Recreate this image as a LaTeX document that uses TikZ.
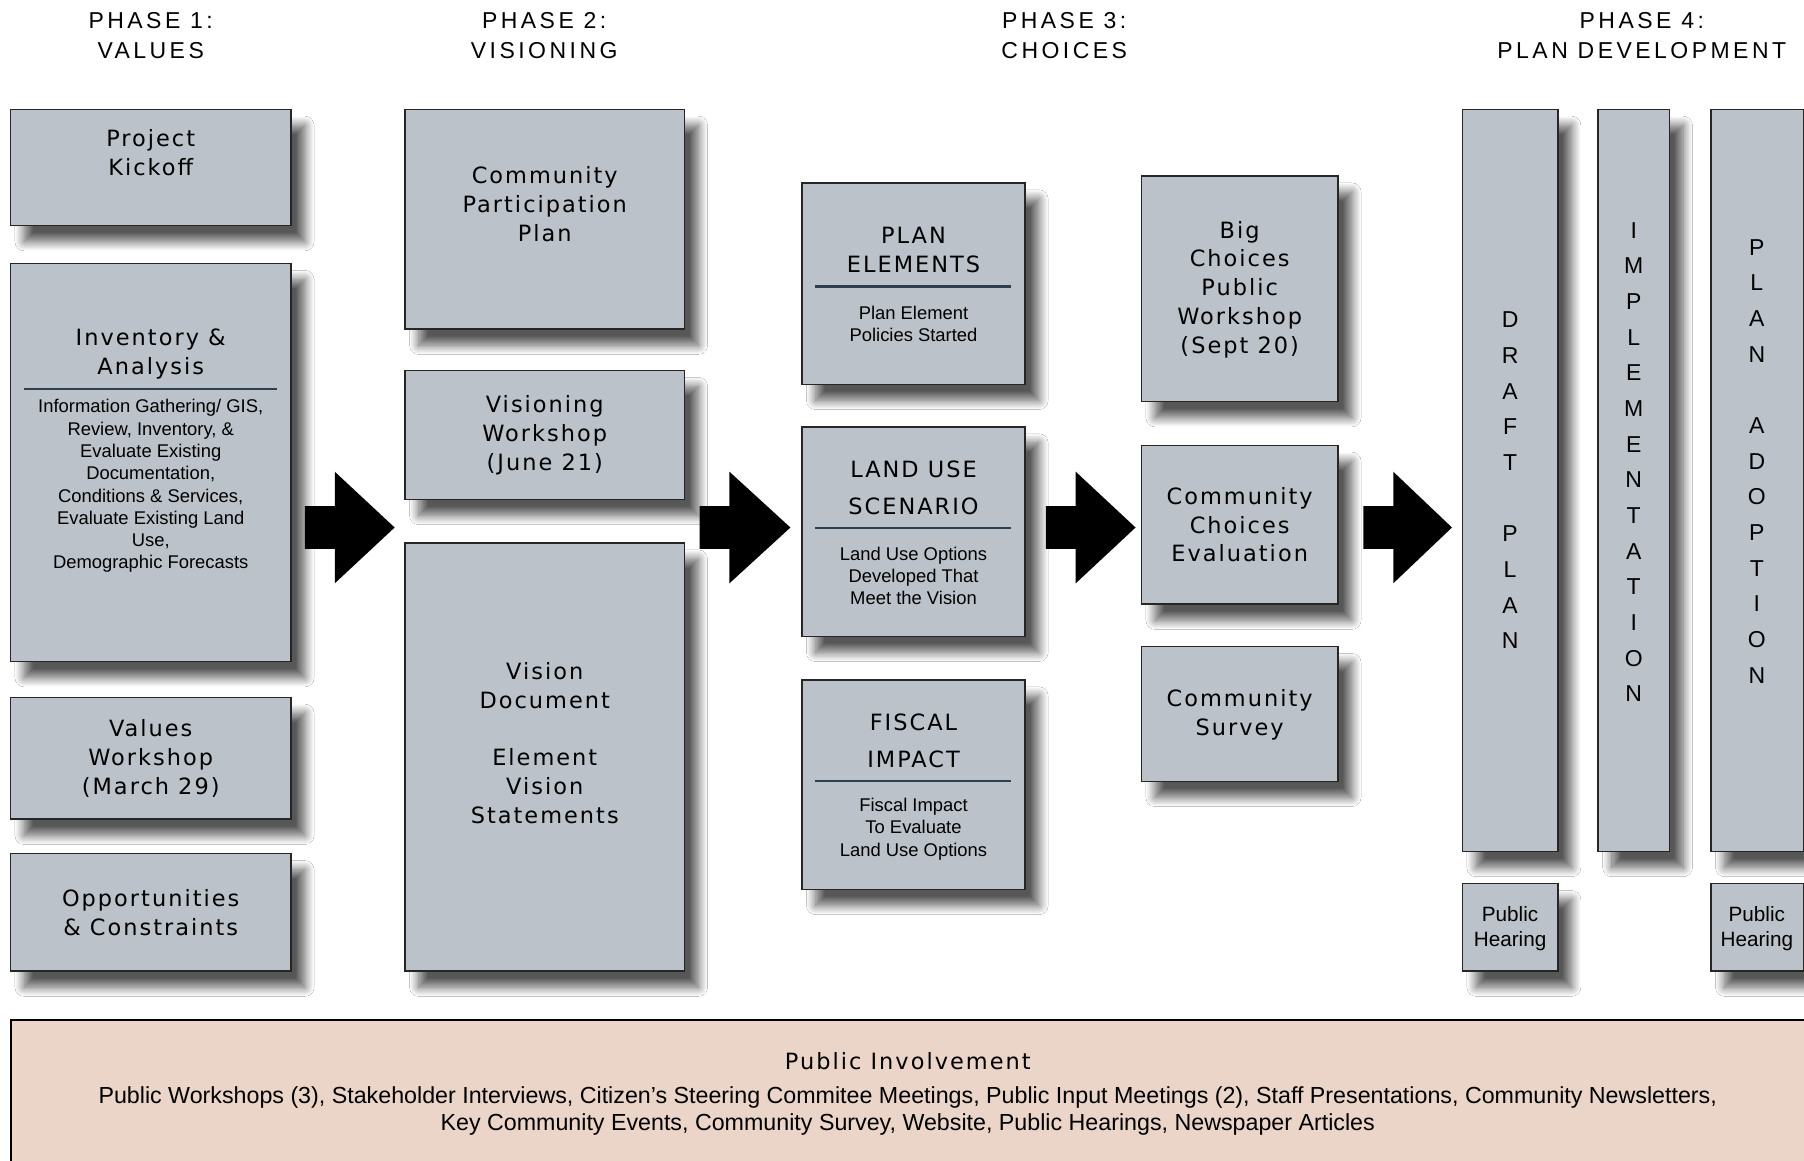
\documentclass[tikz,border=0pt]{standalone}
\usepackage{fontspec}
\setmainfont{Liberation Sans}
\newfontfamily\titlefont[LetterSpace=9]{DejaVu Sans}
\newfontfamily\headfont[LetterSpace=15]{Liberation Sans}
\usetikzlibrary{shadows.blur}
\definecolor{boxfill}{HTML}{BCC2C9}
\definecolor{rulecol}{HTML}{2B3F4E}
\definecolor{bandfill}{HTML}{EAD5C8}
\tikzset{
 box/.style={draw=black!85, line width=1.2pt, fill=boxfill, inner sep=0pt,
   blur shadow={shadow xshift=12pt, shadow yshift=-14pt, shadow blur radius=8pt, shadow blur steps=16, shadow opacity=66}},
 ttl/.style={font=\titlefont\fontsize{19.5}{25}\selectfont, align=center, inner sep=0pt},
 ttlb/.style={font=\titlefont\fontsize{19.5}{32}\selectfont, align=center, inner sep=0pt},
 small/.style={font=\fontsize{16}{19.4}\selectfont, align=center, inner sep=0pt},
 head/.style={font=\headfont\fontsize{20}{26}\selectfont, align=center, inner sep=0pt},
 vert/.style={font=\fontsize{20}{31}\selectfont, align=center, inner sep=0pt},
 hear/.style={font=\fontsize{18}{22}\selectfont, align=center, inner sep=0pt},
 band/.style={font=\fontsize{20.2}{23}\selectfont, align=center, inner sep=0pt},
 rulel/.style={draw=rulecol, line width=2.2pt},
 blockarrow/.style={fill=black},
}
\newcommand\mkbox[5]{\node[box, minimum width={#4-#2}, minimum height={#5-#3}] (#1) at ({(#2+#4)/2},{(#3+#5)/2}) {};}
\newcommand\blockarr[4]{%
 \coordinate (#1-a) at (#2,440); \coordinate (#1-b) at (#3,440);
 \coordinate (#1-c) at (#3,410); \coordinate (#1-tip) at (#4,458.5);
 \coordinate (#1-d) at (#3,507); \coordinate (#1-e) at (#3,477);
 \coordinate (#1-f) at (#2,477);
 \fill[blockarrow] (#1-a) -- (#1-b) -- (#1-c) -- (#1-tip) -- (#1-d) -- (#1-e) -- (#1-f) -- cycle;}
\begin{document}
\begin{tikzpicture}[x=1pt,y=-1pt]
\useasboundingbox (0,0) rectangle (1568,1009);
\clip (0,0) rectangle (1568,1009);
\fill[white] (0,0) rectangle (1568,1009);

% headers
\node[head] (h1) at (131,31) {PHASE 1:\\VALUES};
\node[head] (h2) at (473,31) {PHASE 2:\\VISIONING};
\node[head] (h3) at (925,31) {PHASE 3:\\CHOICES};
\node[head] (h4) at (1427,31) {PHASE 4:\\PLAN DEVELOPMENT};

% phase 1
\mkbox{kick}{9}{95}{253}{196}
\node[ttl] (kick-t) at (131,132.5) {Project\\Kickoff};
\mkbox{inv}{9}{229}{253}{575}
\node[ttl] (inv-t) at (131,307.5) {Inventory \&\\Analysis};
\draw[rulel] (21,338) -- (241,338);
\node[small] (inv-s) at (131,422.5) {Information Gathering/ GIS,\\Review, Inventory, \&\\Evaluate Existing\\Documentation,\\Conditions \& Services,\\Evaluate Existing Land\\Use,\\Demographic Forecasts};
\mkbox{valw}{9}{606}{253}{712}
\node[ttl] (valw-t) at (131,659) {Values\\Workshop\\(March 29)};
\mkbox{opp}{9}{742}{253}{844}
\node[ttl] (opp-t) at (131,793.5) {Opportunities\\\& Constraints};

% phase 2
\mkbox{cpp}{352}{95}{595}{286}
\node[ttl] (cpp-t) at (473.5,177.5) {Community\\Participation\\Plan};
\mkbox{visw}{352}{322}{595}{434}
\node[ttl] (visw-t) at (473.5,378.5) {Visioning\\Workshop\\(June 21)};
\mkbox{visd}{352}{472}{595}{844}
\node[ttl] (visd-t) at (473.5,646) {Vision\\Document\\[25pt]Element\\Vision\\Statements};

% phase 3
\mkbox{pel}{697}{159}{891}{334}
\node[ttl] (pel-t) at (794,217.5) {PLAN\\ELEMENTS};
\draw[rulel] (708,249) -- (879,249);
\node[small] (pel-s) at (794,281.5) {Plan Element\\Policies Started};
\mkbox{lus}{697}{371}{891}{553}
\node[ttlb] (lus-t) at (794,424) {LAND USE\\SCENARIO};
\draw[rulel] (708,459) -- (879,459);
\node[small] (lus-s) at (794,500.5) {Land Use Options\\Developed That\\Meet the Vision};
\mkbox{fis}{697}{591}{891}{773}
\node[ttlb] (fis-t) at (794,644) {FISCAL\\IMPACT};
\draw[rulel] (708,679) -- (879,679);
\node[small] (fis-s) at (794,720.5) {Fiscal Impact\\To Evaluate\\Land Use Options};

\mkbox{big}{992}{153}{1163}{349}
\node[ttl] (big-t) at (1077.5,251.5) {Big\\Choices\\Public\\Workshop\\(Sept 20)};
\mkbox{cce}{992}{387}{1163}{525}
\node[ttl] (cce-t) at (1077.5,456) {Community\\Choices\\Evaluation};
\mkbox{sur}{992}{562}{1163}{679}
\node[ttl] (sur-t) at (1077.5,621.5) {Community\\Survey};

% phase 4
\mkbox{dra}{1271}{95}{1354}{740}
\node[vert] (dra-t) at (1312.5,417.5) {D\\R\\A\\F\\T\\[31pt]P\\L\\A\\N};
\mkbox{imp}{1389}{95}{1451}{740}
\node[vert] (imp-t) at (1420,401.5) {I\\M\\P\\L\\E\\M\\E\\N\\T\\A\\T\\I\\O\\N};
\mkbox{ado}{1487}{95}{1568}{740}
\node[vert] (ado-t) at (1527,401) {P\\L\\A\\N\\[31pt]A\\D\\O\\P\\T\\I\\O\\N};
\mkbox{ph1}{1271}{768}{1354}{844}
\node[hear] (ph1-t) at (1312.5,807) {Public\\Hearing};
\mkbox{ph2}{1487}{768}{1568}{844}
\node[hear] (ph2-t) at (1527,807) {Public\\Hearing};

% arrows
\blockarr{ar1}{265}{291}{343}
\blockarr{ar2}{608}{634}{687}
\blockarr{ar3}{909}{935}{987}
\blockarr{ar4}{1185}{1211}{1262}

% public involvement band
\node[draw=black, line width=1.5pt, fill=bandfill, minimum width=1600, minimum height=200, anchor=north west, inner sep=0pt] (bandbox) at (9,886) {};
\node[ttl] (band-t) at (789,922) {Public Involvement};
\node[band] (band-s) at (789,965.5) {Public Workshops (3), Stakeholder Interviews, Citizen’s Steering Commitee Meetings, Public Input Meetings (2), Staff Presentations, Community Newsletters,\\Key Community Events, Community Survey, Website, Public Hearings, Newspaper Articles};
\end{tikzpicture}
\end{document}
